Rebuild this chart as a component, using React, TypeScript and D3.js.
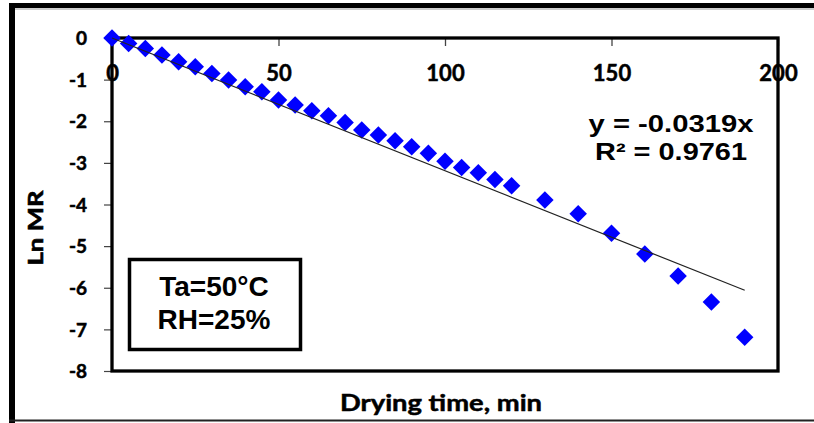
import * as React from 'react';
import * as d3 from 'd3';

// drying time (min) and measured Ln MR
const dryingTime = [0, 5, 10, 15, 20, 25, 30, 35, 40, 45, 50, 55, 60, 65, 70, 75, 80, 85, 90, 95, 100,
    105, 110, 115, 120, 130, 140, 150, 160, 170, 180, 190];
const lnMR = [0, -0.13, -0.25, -0.41, -0.57, -0.69, -0.85, -1.01, -1.17, -1.29, -1.49, -1.61, -1.75,
    -1.87, -2.03, -2.21, -2.33, -2.47, -2.61, -2.77, -2.96, -3.11, -3.24, -3.40, -3.55, -3.89, -4.22,
    -4.69, -5.19, -5.72, -6.34, -7.19];
const slope = -0.0319;
const xTicks = [0, 50, 100, 150, 200];
const yTicks = [0, -1, -2, -3, -4, -5, -6, -7, -8];
const equationLines = ['y = -0.0319x', 'R² = 0.9761'];
const conditionLines = ['Ta=50°C', 'RH=25%'];

const W = 814;
const H = 423;
const plot = { left: 112, right: 778, top: 38, bottom: 371 };
const calibri = 'Lato, Carlito, Calibri, sans-serif';
const arial = '"Liberation Sans", Arial, sans-serif';

const App = () => {
    const svgRef = React.useRef<SVGSVGElement | null>(null);

    React.useEffect(() => {
        const svg = d3.select(svgRef.current);
        svg.selectAll('*').remove();

        const x = d3.scaleLinear().domain([0, 200]).range([plot.left, plot.right]);
        const y = d3.scaleLinear().domain([-8, 0]).range([plot.bottom, plot.top]);

        svg.append('rect').attr('width', W).attr('height', H).attr('fill', '#fff');

        // outer frame
        svg.append('line').attr('x1', 9).attr('x2', W).attr('y1', 5.5).attr('y2', 5.5)
            .attr('stroke', '#000').attr('stroke-width', 5);
        svg.append('line').attr('x1', 15).attr('x2', W).attr('y1', 9).attr('y2', 9)
            .attr('stroke', '#999').attr('stroke-width', 1);
        svg.append('line').attr('x1', 12).attr('x2', 12).attr('y1', 3).attr('y2', H)
            .attr('stroke', '#000').attr('stroke-width', 6);
        svg.append('line').attr('x1', 9).attr('x2', W).attr('y1', 420.5).attr('y2', 420.5)
            .attr('stroke', '#222').attr('stroke-width', 2);

        // axes (labels sit under the axis lines)
        const xAxis = d3.axisBottom(x).tickValues(xTicks).tickSize(8).tickPadding(19.5)
            .tickFormat(d => String(d));
        const xg = svg.append('g').attr('transform', `translate(0,${plot.top})`).call(xAxis);
        xg.select('.domain').remove();
        xg.selectAll('line').attr('stroke', '#444').attr('stroke-width', 1.3);
        xg.selectAll('text').attr('font-family', calibri).attr('font-weight', 700)
            .attr('font-size', 22).attr('fill', '#000')
            .attr('stroke', '#000').attr('stroke-width', 0.5);

        const yAxis = d3.axisLeft(y).tickValues(yTicks).tickSize(8).tickPadding(17)
            .tickFormat(d => String(d));
        const yg = svg.append('g').attr('transform', `translate(${plot.left},0)`).call(yAxis);
        yg.select('.domain').remove();
        yg.selectAll('line').attr('stroke', '#444').attr('stroke-width', 1.2);
        yg.selectAll('text').attr('font-family', calibri).attr('font-weight', 700)
            .attr('font-size', 19).attr('fill', '#000').attr('dy', '0.35em')
            .attr('stroke', '#000').attr('stroke-width', 0.5);

        svg.append('rect')
            .attr('x', plot.left).attr('y', plot.top)
            .attr('width', plot.right - plot.left).attr('height', plot.bottom - plot.top)
            .attr('fill', 'none').attr('stroke', '#000').attr('stroke-width', 3.3);

        // data points
        const diamond = d3.symbol().type(d3.symbolDiamond2).size(195);
        svg.append('g').selectAll('path')
            .data(dryingTime)
            .enter()
            .append('path')
            .attr('d', diamond)
            .attr('transform', (d, i) => `translate(${x(d)},${y(lnMR[i])})`)
            .attr('fill', '#0000ff');

        // trend line
        const tMax = d3.max(dryingTime) || 0;
        svg.append('line')
            .attr('x1', x(0)).attr('y1', y(0))
            .attr('x2', x(tMax)).attr('y2', y(slope * tMax))
            .attr('stroke', '#222').attr('stroke-width', 1.2);

        // equation
        const eqLengths = [165, 152];
        const eqBase = [132, 160];
        equationLines.forEach((t, i) => {
            svg.append('text').text(t)
                .attr('x', 671).attr('y', eqBase[i]).attr('text-anchor', 'middle')
                .attr('textLength', eqLengths[i]).attr('lengthAdjust', 'spacingAndGlyphs')
                .attr('font-family', arial).attr('font-weight', 700).attr('font-size', 24);
        });

        // condition box
        svg.append('rect').attr('x', 129.5).attr('y', 259.5).attr('width', 171).attr('height', 90)
            .attr('fill', '#fff').attr('stroke', '#000').attr('stroke-width', 3.5);
        const condBase = [296, 329];
        conditionLines.forEach((t, i) => {
            svg.append('text').text(t)
                .attr('x', 214).attr('y', condBase[i]).attr('text-anchor', 'middle')
                .attr('font-family', arial).attr('font-weight', 700).attr('font-size', 28);
        });

        // axis titles
        svg.append('text').text('Drying time, min')
            .attr('x', 441).attr('y', 411).attr('text-anchor', 'middle')
            .attr('textLength', 202).attr('lengthAdjust', 'spacingAndGlyphs')
            .attr('font-family', calibri).attr('font-weight', 700).attr('font-size', 23)
            .attr('stroke', '#000').attr('stroke-width', 0.5);

        svg.append('text').text('Ln MR')
            .attr('transform', 'translate(43,228) rotate(-90)').attr('text-anchor', 'middle')
            .attr('textLength', 75).attr('lengthAdjust', 'spacingAndGlyphs')
            .attr('font-family', calibri).attr('font-weight', 700).attr('font-size', 21)
            .attr('stroke', '#000').attr('stroke-width', 0.6);
    }, []);

    return <svg
        ref={svgRef}
        width={W}
        height={H}
        style={{ position: 'absolute', left: 0, top: 0, display: 'block' }}>
    </svg>
}

export default App
